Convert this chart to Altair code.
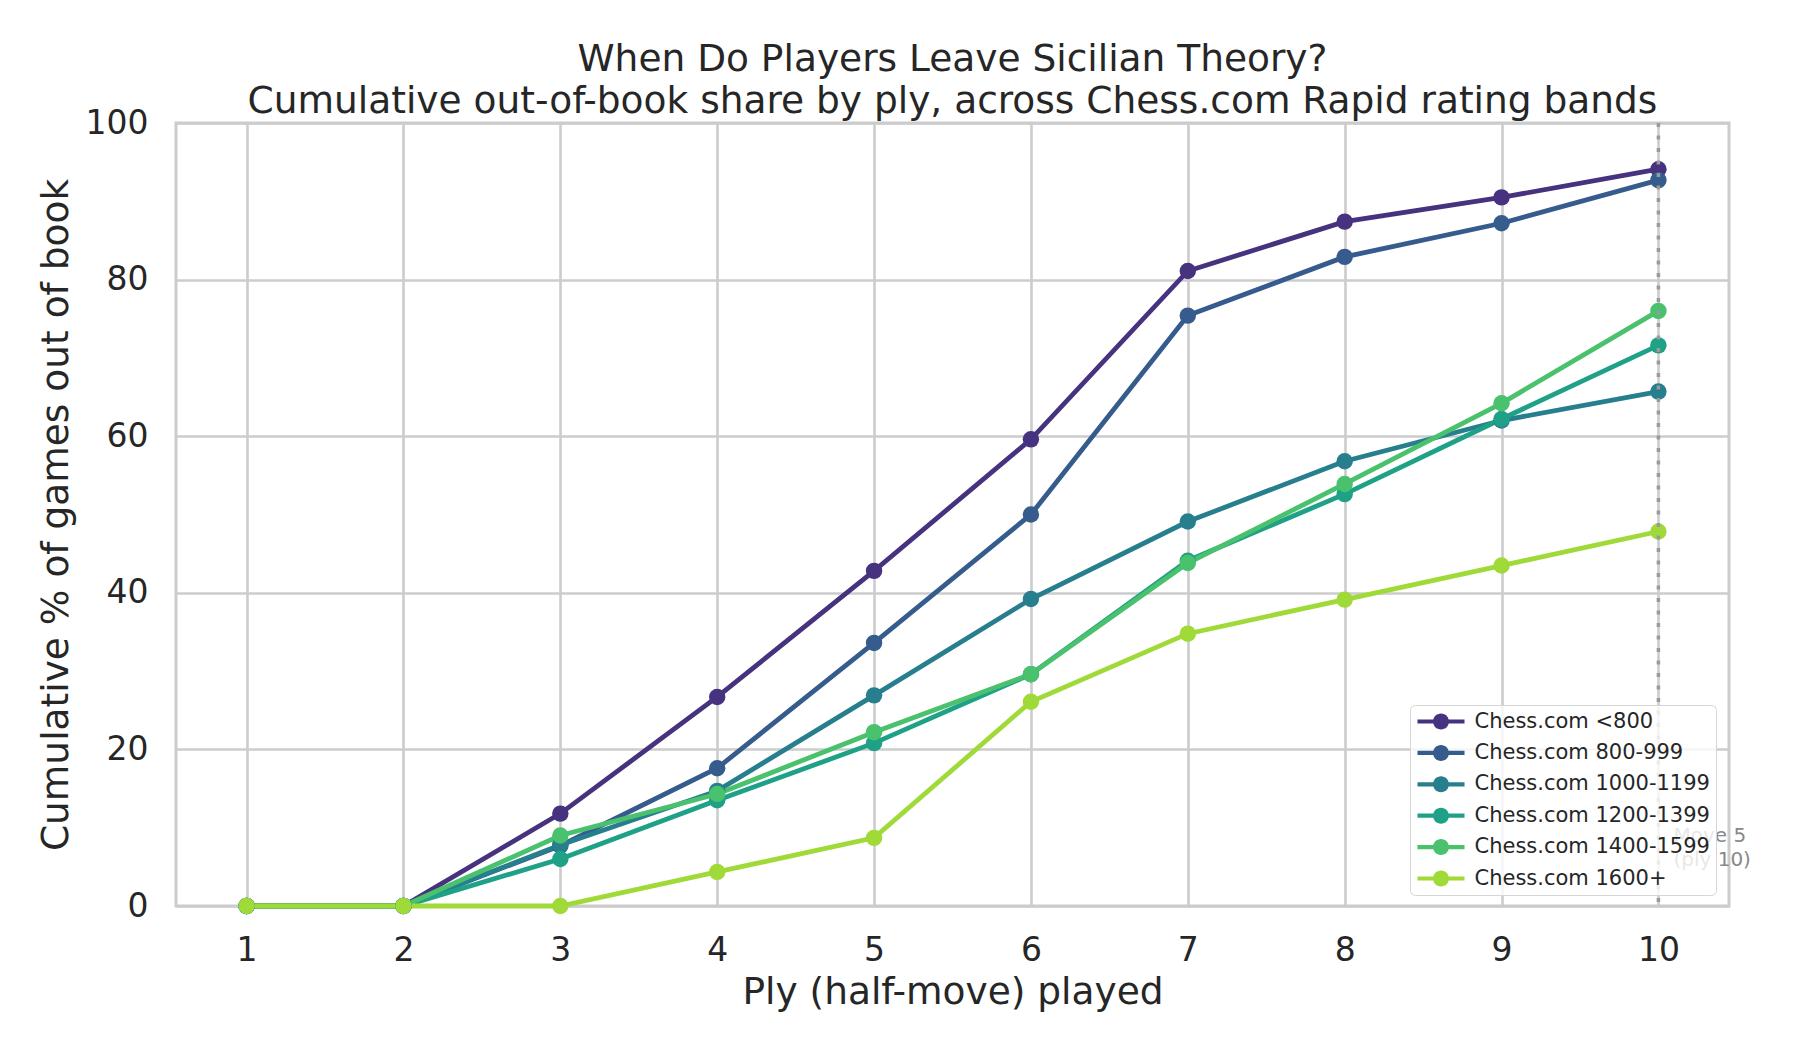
import altair as alt
import pandas as pd

# ply index and cumulative % out of book per rating band
ply = [1, 2, 3, 4, 5, 6, 7, 8, 9, 10]

bands = [
    "Chess.com <800",
    "Chess.com 800-999",
    "Chess.com 1000-1199",
    "Chess.com 1200-1399",
    "Chess.com 1400-1599",
    "Chess.com 1600+",
]

pct_lt800 = [0, 0, 11.8, 26.7, 42.8, 59.6, 81.1, 87.4, 90.5, 94.1]
pct_800_999 = [0, 0, 7.7, 17.6, 33.6, 50.0, 75.4, 82.9, 87.2, 92.7]
pct_1000_1199 = [0, 0, 7.8, 14.7, 26.9, 39.2, 49.1, 56.8, 62.0, 65.7]
pct_1200_1399 = [0, 0, 6.0, 13.5, 20.8, 29.6, 44.1, 52.6, 62.2, 71.6]
pct_1400_1599 = [0, 0, 9.0, 14.3, 22.2, 29.6, 43.8, 53.9, 64.2, 76.0]
pct_1600_plus = [0, 0, 0, 4.35, 8.70, 26.09, 34.78, 39.13, 43.48, 47.83]

colors = ["#46327e", "#365c8d", "#277f8e", "#1fa187", "#4ac16d", "#a0da39"]

series = [pct_lt800, pct_800_999, pct_1000_1199, pct_1200_1399, pct_1400_1599, pct_1600_plus]

rows = []
for band, vals in zip(bands, series):
    for p, v in zip(ply, vals):
        rows.append({"ply": p, "pct": v, "band": band})
data = pd.DataFrame(rows)

marker_ply = [10]
note_text = ["Move 5\n(ply 10)"]
note_y = [9.0]

# legend symbol: short line with a dot in the middle
line_dot = ("M-2.94,-0.26 L2.94,-0.26 L2.94,0.26 L-2.94,0.26 Z "
            "M1,0 A1,1 0 1 1 -1,0 A1,1 0 1 1 1,0 Z")

x_enc = alt.X("ply:Q", title="Ply (half-move) played",
              scale=alt.Scale(domain=[0.55, 10.45], nice=False, zero=False),
              axis=alt.Axis(values=ply, format="d", labelFlush=False, titlePadding=6))
y_enc = alt.Y("pct:Q", title="Cumulative % of games out of book",
              scale=alt.Scale(domain=[0, 100], nice=False),
              axis=alt.Axis(values=[0, 20, 40, 60, 80, 100], titlePadding=10))

lines = alt.Chart(data).mark_line(strokeWidth=4.8).encode(
    x=x_enc,
    y=y_enc,
    stroke=alt.Stroke("band:N", scale=alt.Scale(domain=bands, range=colors), legend=None),
    detail="band:N",
)

points = alt.Chart(data).mark_circle(size=270, opacity=1).encode(
    x="ply:Q",
    y="pct:Q",
    color=alt.Color("band:N", scale=alt.Scale(domain=bands, range=colors),
                    legend=alt.Legend(
                        title=None, orient="none", legendX=1234, legendY=582,
                        symbolType=line_dot, symbolSize=256, symbolStrokeWidth=0,
                        symbolOpacity=1, symbolOffset=14.5, labelOffset=23,
                        labelFontSize=21, labelColor="#262626", labelFont="DejaVu Sans",
                        rowPadding=9.4, padding=6, cornerRadius=5,
                        fillColor="rgba(255,255,255,0.8)", strokeColor="#d6d6d6",
                        labelLimit=400,
                    )),
)

rule = alt.Chart(pd.DataFrame({"ply": marker_ply})).mark_rule(
    color="#9a9a9a", strokeWidth=3.5, strokeDash=[4, 8.5]
).encode(x="ply:Q")

note = alt.Chart(pd.DataFrame({"ply": marker_ply, "pct": note_y, "note": note_text})).mark_text(
    align="left", baseline="middle", dx=15, fontSize=20, lineHeight=24,
    color="#888888", lineBreak="\n", font="DejaVu Sans"
).encode(x="ply:Q", y="pct:Q", text="note:N")

chart = alt.layer(lines, points, rule, note).resolve_scale(
    color="independent", stroke="independent"
).properties(
    width=1553,
    height=783,
    autosize=alt.AutoSizeParams(type="none"),
    padding={"left": 168, "top": 115, "right": 63, "bottom": 136},
    title=alt.TitleParams(
        text=["When Do Players Leave Sicilian Theory?",
              "Cumulative out-of-book share by ply, across Chess.com Rapid rating bands"],
        fontSize=37.5, fontWeight="normal", color="#262626", font="DejaVu Sans",
        anchor="middle", lineHeight=42, offset=-13,
    ),
).configure(
    font="DejaVu Sans",
    background="white",
).configure_view(
    stroke="#cccccc", strokeWidth=3,
).configure_axis(
    domain=False, ticks=False,
    grid=True, gridColor="#cccccc", gridWidth=2.6,
    labelFontSize=33, labelColor="#262626", labelPadding=28,
    titleFontSize=37.5, titleFontWeight="normal", titleColor="#262626",
)

chart.save("out.html", embed_options={"renderer": "svg", "actions": False})
